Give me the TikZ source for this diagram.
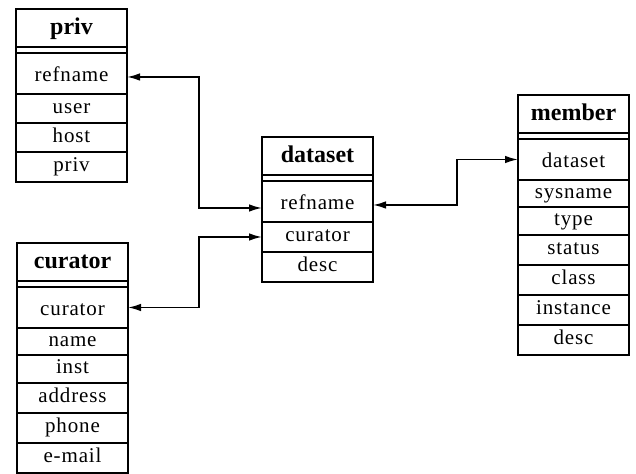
\documentclass[tikz,border=0pt]{standalone}
\usepackage{fontspec}
\setmainfont{Liberation Serif}
\newfontfamily\fieldfont[LetterSpace=4]{Liberation Serif}
\usetikzlibrary{arrows.meta}
\begin{document}
\begin{tikzpicture}[x=0.5pt,y=-0.5pt,
  cell/.style={draw, line width=1.3pt, rectangle, inner sep=0pt, outer sep=0pt,
    anchor=north west, minimum width=111*0.5pt, text height=7pt, text depth=2pt,
    font=\fieldfont\fontsize{10.5}{12}\selectfont},
  keycell/.style={cell, minimum height=41*0.5pt, text height=10pt},
  titlecell/.style={cell, minimum height=38*0.5pt, text height=9pt, text depth=2.5pt,
    font=\rmfamily\bfseries\fontsize{12}{14}\selectfont},
  rowh/.style={minimum height=#1*0.5pt},
  sep/.style={line width=1.3pt},
  link/.style={line width=0.9pt, {Latex[length=6.5pt,width=3.8pt]}-{Latex[length=6.5pt,width=3.8pt]}}
]
\useasboundingbox (0,0) rectangle (636,474);

% priv table
\node[titlecell] (priv-title) at (16,9) {priv};
\node[keycell] (priv-refname) at (16,53) {refname};
\node[cell, rowh=29] (priv-user) at (priv-refname.south west) {user};
\node[cell, rowh=29] (priv-host) at (priv-user.south west) {host};
\node[cell, rowh=30] (priv-priv) at (priv-host.south west) {priv};
\draw[sep] (priv-title.south west) rectangle (priv-refname.north east);

% curator table
\node[titlecell] (cur-title) at (17,243) {curator};
\node[keycell] (cur-curator) at (17,287) {curator};
\node[cell, rowh=27] (cur-name) at (cur-curator.south west) {name};
\node[cell, rowh=28] (cur-inst) at (cur-name.south west) {inst};
\node[cell, rowh=30] (cur-address) at (cur-inst.south west) {address};
\node[cell, rowh=30] (cur-phone) at (cur-address.south west) {phone};
\node[cell, rowh=30] (cur-email) at (cur-phone.south west) {e-mail};
\draw[sep] (cur-title.south west) rectangle (cur-curator.north east);

% dataset table
\node[titlecell] (ds-title) at (262,137) {dataset};
\node[keycell] (ds-refname) at (262,181) {refname};
\node[cell, rowh=30] (ds-curator) at (ds-refname.south west) {curator};
\node[cell, rowh=30] (ds-desc) at (ds-curator.south west) {desc};
\draw[sep] (ds-title.south west) rectangle (ds-refname.north east);

% member table
\node[titlecell] (mem-title) at (518,95) {member};
\node[keycell] (mem-dataset) at (518,139) {dataset};
\node[cell, rowh=27] (mem-sysname) at (mem-dataset.south west) {sysname};
\node[cell, rowh=28] (mem-type) at (mem-sysname.south west) {type};
\node[cell, rowh=30] (mem-status) at (mem-type.south west) {status};
\node[cell, rowh=30] (mem-class) at (mem-status.south west) {class};
\node[cell, rowh=30] (mem-instance) at (mem-class.south west) {instance};
\node[cell, rowh=30] (mem-desc) at (mem-instance.south west) {desc};
\draw[sep] (mem-title.south west) rectangle (mem-dataset.north east);

% links between the tables
\draw[link] ([yshift=-1.75pt]priv-refname.east) -- ++(72,0) |- ([yshift=-3.25pt]ds-refname.west);
\draw[link] (cur-curator.east) -- ++(71,0) |- (ds-curator.west);
\draw[link] ([yshift=-1.75pt]ds-refname.east) -- ++(84,0) |- (mem-dataset.west);
\end{tikzpicture}
\end{document}
